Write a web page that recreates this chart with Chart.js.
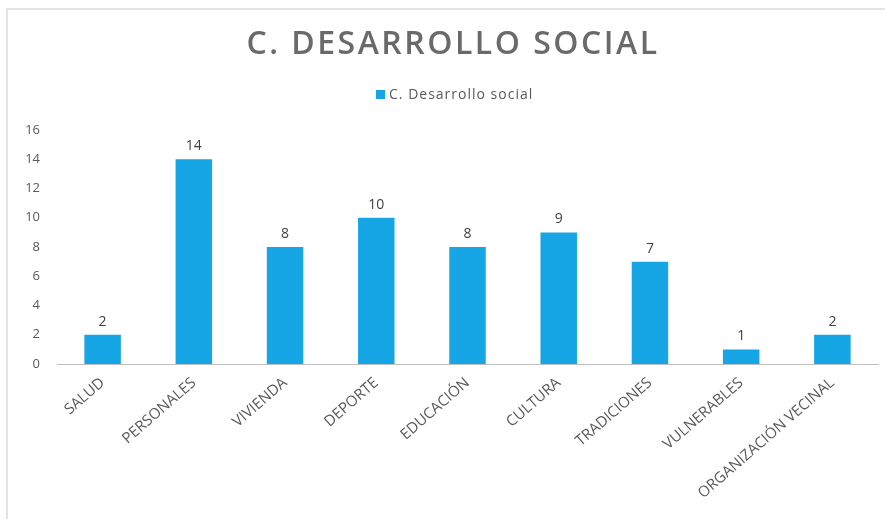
<!DOCTYPE html>
<html>
<head>
<meta charset="utf-8">
<script src="https://cdn.jsdelivr.net/npm/chart.js@4"></script>
<style>
  html, body { margin: 0; padding: 0; background: #fff; }
  #marco { position: absolute; left: 6px; top: 8px; width: 890px; height: 520px;
           border-left: 2px solid #e3e3e3; border-top: 2px solid #e3e3e3; }
  #grafico { position: absolute; left: 0; top: 0; }
</style>
</head>
<body>
<div id="marco"></div>
<canvas id="grafico" width="885" height="519"></canvas>
<script>
// Datos del gráfico
const categorias = ['SALUD', 'PERSONALES', 'VIVIENDA', 'DEPORTE', 'EDUCACIÓN', 'CULTURA', 'TRADICIONES', 'VULNERABLES', 'ORGANIZACIÓN VECINAL'];
const valores = [2, 14, 8, 10, 8, 9, 7, 1, 2];
const nombreSerie = 'C. Desarrollo social';
const titulo = 'C. DESARROLLO SOCIAL';
const colorBarra = '#16a6e6';

// Plugin para el titulo y la leyenda (con espaciado de letras)
const encabezado = {
    id: 'encabezado',
    afterDraw(chart) {
        const ctx = chart.ctx;
        ctx.save();
        ctx.letterSpacing = '2.5px';
        ctx.font = '600 32px "Open Sans"';
        ctx.fillStyle = '#6a6a6a';
        ctx.textAlign = 'center';
        ctx.textBaseline = 'middle';
        ctx.fillText(titulo, 453, 45);

        // leyenda
        ctx.letterSpacing = '1px';
        ctx.font = '14px "Open Sans"';
        ctx.textAlign = 'left';
        ctx.fillStyle = colorBarra;
        ctx.fillRect(376, 90, 9, 9);
        ctx.fillStyle = '#595959';
        ctx.fillText(nombreSerie, 389, 95);
        ctx.restore();
    }
};

// Plugin para poner el valor encima de cada barra
const etiquetasValor = {
    id: 'etiquetasValor',
    afterDatasetsDraw(chart) {
        const ctx = chart.ctx;
        ctx.save();
        ctx.font = '14px "Open Sans"';
        ctx.fillStyle = '#404040';
        ctx.textAlign = 'center';
        ctx.textBaseline = 'bottom';
        chart.getDatasetMeta(0).data.forEach((barra, i) => {
            ctx.fillText(valores[i], barra.x, barra.y - 6);
        });
        ctx.restore();
    }
};

function crearGraficoBarras(canvasId) {
    const ctx = document.getElementById(canvasId);
    if (!ctx) {
        console.error(`No se encontró el canvas con id: ${canvasId}`);
        return;
    }
    new Chart(ctx, {
        type: 'bar',
        data: {
            labels: categorias,
            datasets: [{
                label: nombreSerie,
                data: valores,
                backgroundColor: colorBarra,
                barPercentage: 0.4,
                categoryPercentage: 1
            }]
        },
        options: {
            responsive: false,
            animation: false,
            layout: { padding: { left: 0, right: 7, top: 130, bottom: 0 } },
            plugins: {
                title: { display: false },
                legend: { display: false },
                tooltip: { enabled: false }
            },
            scales: {
                x: {
                    grid: { display: false, drawTicks: false },
                    border: { display: true, color: '#bfbfbf', width: 1 },
                    ticks: {
                        color: '#595959',
                        font: { family: 'Open Sans', size: 15 },
                        minRotation: 41,
                        maxRotation: 41,
                        padding: 10
                    },
                    afterFit(scale) { scale.height = 155; }
                },
                y: {
                    min: 0,
                    max: 16,
                    grid: { display: false, drawTicks: false },
                    border: { display: false },
                    ticks: {
                        stepSize: 2,
                        color: '#595959',
                        font: { family: 'Open Sans', size: 13 },
                        padding: 17
                    },
                    afterFit(scale) { scale.width = 57; }
                }
            }
        },
        plugins: [etiquetasValor, encabezado]
    });
}

crearGraficoBarras('grafico');
</script>
</body>
</html>
